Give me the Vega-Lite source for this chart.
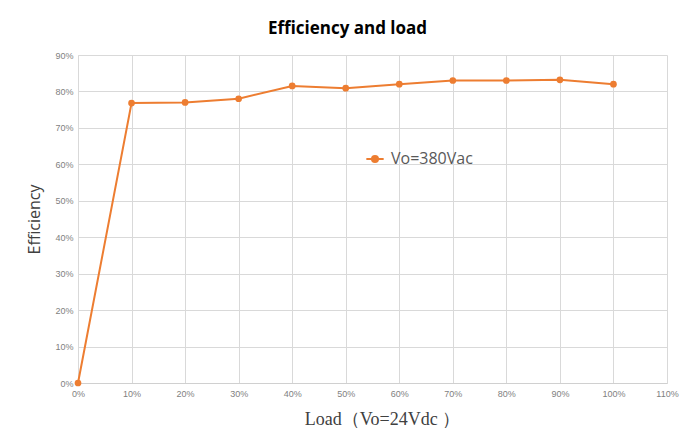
{
  "$schema": "https://vega.github.io/schema/vega-lite/v6.json",
  "width": 589,
  "height": 328,
  "autosize": {"type": "none"},
  "padding": {"left": 78, "top": 55, "right": 14, "bottom": 47},
  "background": "white",
  "title": {
    "text": "Efficiency and load",
    "font": "Open Sans",
    "fontSize": 17,
    "fontWeight": "bold",
    "color": "#000000",
    "anchor": "middle",
    "frame": "group",
    "dx": -25,
    "offset": 13
  },
  "data": {
    "values": [
      {"load": 0.0, "eff": 0.0, "series": "Vo=380Vac"},
      {"load": 0.1, "eff": 0.768, "series": "Vo=380Vac"},
      {"load": 0.2, "eff": 0.770, "series": "Vo=380Vac"},
      {"load": 0.3, "eff": 0.780, "series": "Vo=380Vac"},
      {"load": 0.4, "eff": 0.815, "series": "Vo=380Vac"},
      {"load": 0.5, "eff": 0.809, "series": "Vo=380Vac"},
      {"load": 0.6, "eff": 0.820, "series": "Vo=380Vac"},
      {"load": 0.7, "eff": 0.830, "series": "Vo=380Vac"},
      {"load": 0.8, "eff": 0.830, "series": "Vo=380Vac"},
      {"load": 0.9, "eff": 0.832, "series": "Vo=380Vac"},
      {"load": 1.0, "eff": 0.820, "series": "Vo=380Vac"}
    ]
  },
  "mark": {"type": "line", "strokeWidth": 2, "point": {"filled": true, "size": 45}},
  "encoding": {
    "x": {
      "field": "load",
      "type": "quantitative",
      "scale": {"domain": [0, 1.1], "nice": false},
      "axis": {
        "values": [0, 0.1, 0.2, 0.3, 0.4, 0.5, 0.6, 0.7, 0.8, 0.9, 1.0, 1.1],
        "format": ".0%",
        "title": "Load（Vo=24Vdc ）",
        "titleFont": "Liberation Serif",
        "titleFontSize": 18,
        "titleFontWeight": "normal",
        "titleColor": "#404040",
        "titlePadding": 12,
        "titleX": 304,
        "labelFont": "Liberation Sans",
        "labelFontSize": 9,
        "labelColor": "#7f7f7f",
        "labelPadding": 6,
        "ticks": false,
        "domainColor": "#d0d0d0",
        "gridColor": "#d9d9d9",
        "labelFlush": false
      }
    },
    "y": {
      "field": "eff",
      "type": "quantitative",
      "scale": {"domain": [0, 0.9], "nice": false},
      "axis": {
        "values": [0, 0.1, 0.2, 0.3, 0.4, 0.5, 0.6, 0.7, 0.8, 0.9],
        "format": ".0%",
        "title": "Efficiency",
        "titleFont": "Open Sans",
        "titleFontSize": 16,
        "titleFontWeight": "normal",
        "titleColor": "#404040",
        "titlePadding": 12,
        "labelFont": "Liberation Sans",
        "labelFontSize": 9,
        "labelColor": "#7f7f7f",
        "labelPadding": 5,
        "ticks": false,
        "domainColor": "#d9d9d9",
        "gridColor": "#d9d9d9"
      }
    },
    "color": {
      "field": "series",
      "type": "nominal",
      "scale": {"range": ["#ED7D31"]},
      "legend": {
        "title": null,
        "orient": "none",
        "legendX": 287,
        "legendY": 94,
        "labelFont": "Open Sans",
        "labelFontSize": 16,
        "labelColor": "#595959",
        "symbolType": "M-1,0H1M-0.35,0A0.35,0.35 0 1,0 0.35,0A0.35,0.35 0 1,0 -0.35,0Z",
        "symbolSize": 300,
        "symbolStrokeWidth": 2,
        "symbolFillColor": "#ED7D31",
        "symbolStrokeColor": "#ED7D31",
        "labelOffset": 6
      }
    }
  },
  "config": {"view": {"stroke": null}}
}
